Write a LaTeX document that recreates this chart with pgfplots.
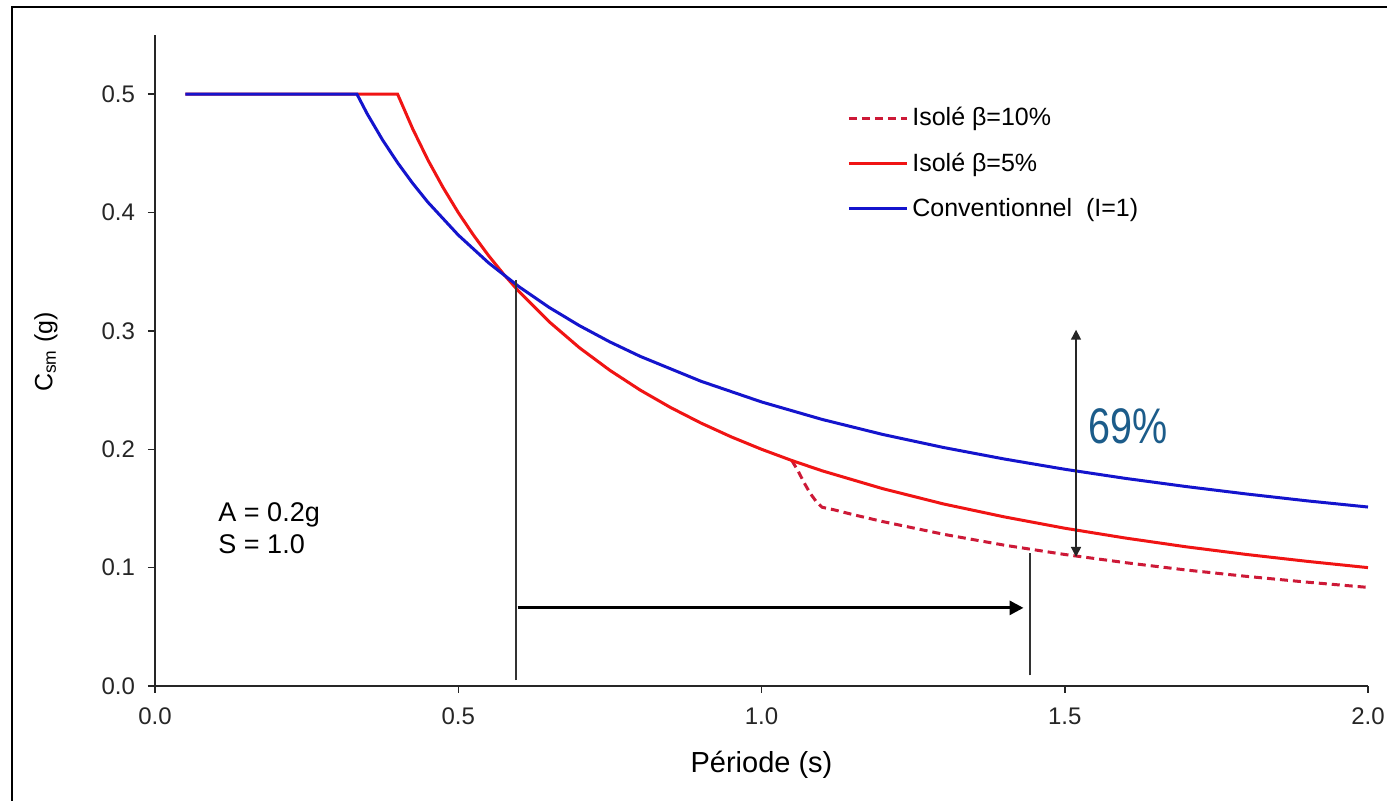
\documentclass[border=0pt]{standalone}
\usepackage{pgfplots}
\pgfplotsset{compat=1.18}
\usepackage{graphicx}
\usepackage{fontspec}
\setmainfont{Liberation Sans}
\usetikzlibrary{arrows.meta}

\definecolor{cblue}{RGB}{20,20,205}
\definecolor{cred}{RGB}{240,20,20}
\definecolor{cdash}{RGB}{205,25,55}
\definecolor{cteal}{RGB}{28,92,138}

\begin{document}
\begin{tikzpicture}
\fill[white] (-77.5pt,-57.5pt) rectangle (616pt,343pt);
\begin{axis}[
  at={(0,0)}, anchor=south west,
  scale only axis,
  width=606.5pt, height=325.5pt,
  xmin=0, xmax=2.0, ymin=0, ymax=0.55,
  axis lines=left,
  axis line style={-, line width=0.75pt, draw=black!85},
  tick style={line width=0.75pt, draw=black!85},
  tick align=outside,
  major tick length=3.5pt,
  xtick={0,0.5,1.0,1.5,2.0},
  ytick={0,0.1,0.2,0.3,0.4,0.5},
  /pgf/number format/assume math mode=true,
  /pgf/number format/.cd, fixed, fixed zerofill, precision=1, /pgfplots/.cd,
  ticklabel style={font=\fontsize{12}{14}\selectfont, text=black!85},
  xticklabel style={yshift=-4pt},
  yticklabel style={xshift=-3pt},
  xlabel={Période (s)},
  ylabel={C\textsubscript{sm} (g)},
  every axis x label/.style={at={(axis description cs:0.5,-0.121)}, anchor=center, font=\fontsize{14.5}{17}\selectfont},
  every axis y label/.style={at={(axis description cs:-0.09,0.513)}, anchor=center, rotate=90, font=\fontsize{12.5}{15}\selectfont},
  legend style={at={(axis cs:1.131,0.496)}, anchor=north west, draw=none, fill=none,
    font=\fontsize{12.5}{14}\selectfont, row sep=8pt, cells={anchor=west}},
  legend image code/.code={\draw[#1] (0pt,0pt) -- (29pt,0pt);},
  clip=false,
]
% Isolé beta=10%
\addplot[cdash, line width=1.5pt, dash pattern=on 4pt off 2.5pt] coordinates {
 (1.05,0.1905) (1.06,0.182) (1.07,0.172) (1.08,0.163) (1.09,0.156) (1.10,0.151)
 (1.12,0.1488) (1.15,0.1449) (1.2,0.1389) (1.3,0.1282) (1.4,0.1190) (1.5,0.1111)
 (1.6,0.1042) (1.7,0.0980) (1.8,0.0926) (1.9,0.0877) (2.0,0.0833)
};
\addlegendentry{Isolé β=10\%}
% Isolé beta=5%
\addplot[cred, line width=1.5pt] coordinates {
 (0.05,0.5) (0.40,0.5) (0.425,0.4706) (0.45,0.4444) (0.475,0.4211) (0.5,0.4)
 (0.525,0.3810) (0.55,0.3636) (0.575,0.3478) (0.6,0.3333) (0.65,0.3077) (0.7,0.2857)
 (0.75,0.2667) (0.8,0.25) (0.85,0.2353) (0.9,0.2222) (0.95,0.2105) (1.0,0.2)
 (1.05,0.1905) (1.1,0.1818) (1.2,0.1667) (1.3,0.1538) (1.4,0.1429) (1.5,0.1333)
 (1.6,0.125) (1.7,0.1176) (1.8,0.1111) (1.9,0.1053) (2.0,0.1)
};
\addlegendentry{Isolé β=5\%}
% Conventionnel
\addplot[cblue, line width=1.5pt] coordinates {
 (0.05,0.5) (0.333,0.5) (0.35,0.4833) (0.375,0.4615) (0.4,0.4421) (0.425,0.4246)
 (0.45,0.4087) (0.5,0.3810) (0.55,0.3575) (0.6,0.3374) (0.65,0.3198) (0.7,0.3044)
 (0.75,0.2907) (0.8,0.2785) (0.9,0.2575) (1.0,0.24) (1.1,0.2252) (1.2,0.2125)
 (1.3,0.2015) (1.4,0.1918) (1.5,0.1831) (1.6,0.1754) (1.7,0.1685) (1.8,0.1622)
 (1.9,0.1564) (2.0,0.1512)
};
\addlegendentry{Conventionnel\ \ (I=1)}

% annotations
\draw[black!80, line width=0.75pt] (axis cs:0.595,0.005) -- (axis cs:0.595,0.343);
\draw[black!80, line width=0.75pt] (axis cs:1.443,0.009) -- (axis cs:1.443,0.112);
\draw[black, line width=1.5pt, -{Triangle[length=7pt,width=7pt]}] (axis cs:0.598,0.066) -- (axis cs:1.432,0.066);
\draw[black!85, line width=0.75pt, {Triangle[length=5pt,width=5pt]}-{Triangle[length=5pt,width=5pt]}] (axis cs:1.5186,0.301) -- (axis cs:1.5186,0.109);
\node[anchor=west, inner sep=0pt, text=cteal, font=\fontsize{25}{28}\selectfont] at (axis cs:1.538,0.219) {\scalebox{0.79}[1]{69\%}};
\node[anchor=west, inner sep=0pt, align=left, font=\fontsize{13.5}{16}\selectfont] at (axis cs:0.104,0.1334) {A = 0.2g\\S = 1.0};
\end{axis}
\draw[line width=1.2pt] (-71.5pt,-57.5pt) -- (-71.5pt,339.5pt) -- (616pt,339.5pt);
\pgfresetboundingbox
\path[use as bounding box] (-77.5pt,-57.5pt) rectangle (616pt,343pt);
\end{tikzpicture}
\end{document}
